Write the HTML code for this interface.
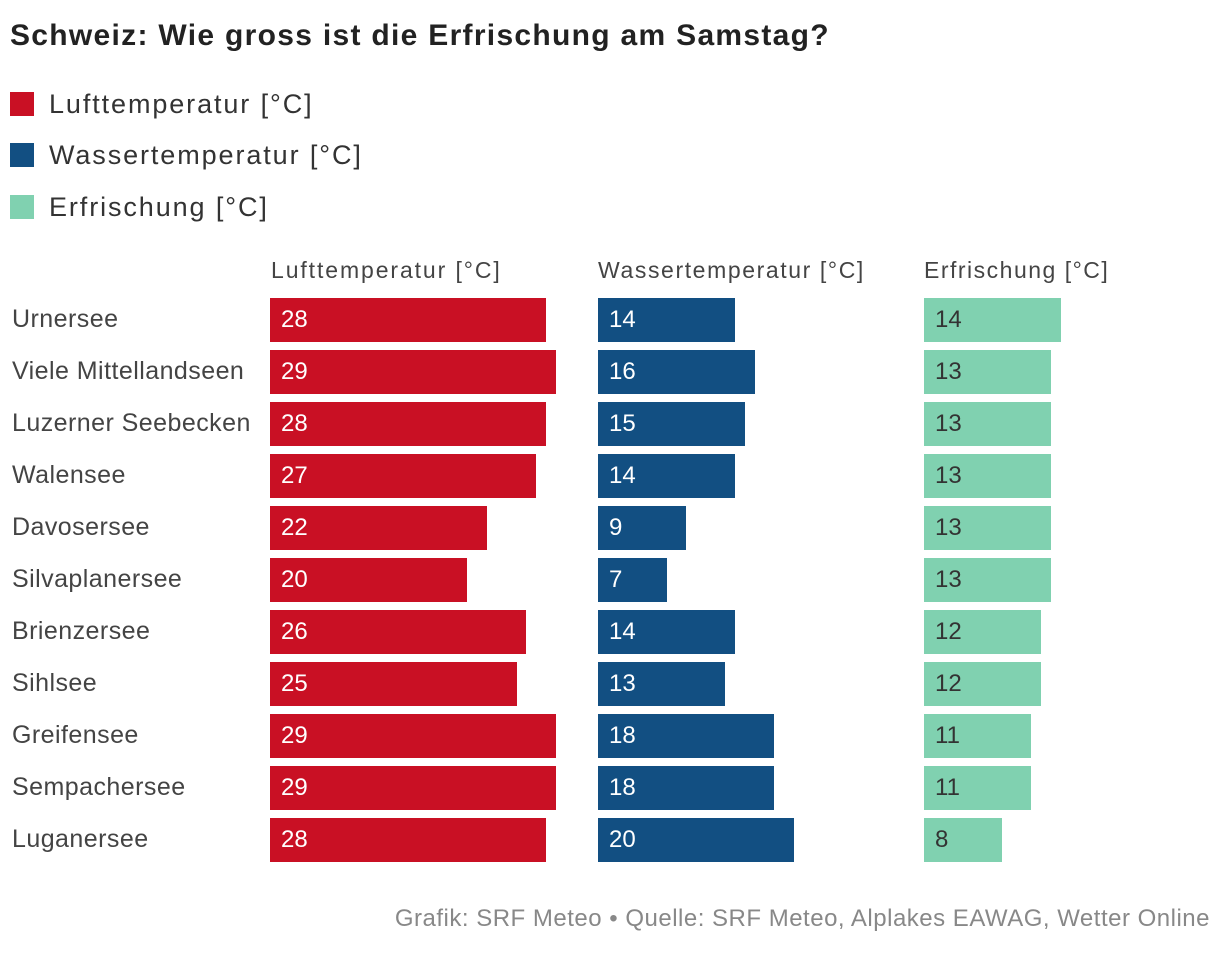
<!DOCTYPE html>
<html><head><meta charset="utf-8"><style>
body{margin:0;width:1220px;height:954px;background:#fff;font-family:"Liberation Sans",sans-serif;color:#333;overflow:hidden;position:relative}
.t{position:absolute;white-space:nowrap}
</style></head><body>
<div class="t" style="left:10px;top:19px;font-size:30px;font-weight:bold;color:#222;letter-spacing:1.3px">Schweiz: Wie gross ist die Erfrischung am Samstag?</div>
<div>
<div class="t" style="left:10px;top:89px;font-size:27px;letter-spacing:1.9px"><span style="display:inline-block;width:24px;height:24px;background:#c91024;vertical-align:-3px;margin-right:15px"></span>Lufttemperatur [°C]</div>
<div class="t" style="left:10px;top:140px;font-size:27px;letter-spacing:1.9px"><span style="display:inline-block;width:24px;height:24px;background:#124f82;vertical-align:-3px;margin-right:15px"></span>Wassertemperatur [°C]</div>
<div class="t" style="left:10px;top:192px;font-size:27px;letter-spacing:1.9px"><span style="display:inline-block;width:24px;height:24px;background:#80d1b0;vertical-align:-3px;margin-right:15px"></span>Erfrischung [°C]</div>
</div>
<div class="t" style="left:271px;top:257px;font-size:23px;color:#444;letter-spacing:1.9px">Lufttemperatur [°C]</div>
<div class="t" style="left:598px;top:257px;font-size:23px;color:#444;letter-spacing:1.6px">Wassertemperatur [°C]</div>
<div class="t" style="left:924px;top:257px;font-size:23px;color:#444;letter-spacing:1.5px">Erfrischung [°C]</div>
<div id="chart"></div>
<div class="t" style="right:10px;top:905px;font-size:24px;color:#888;letter-spacing:0.5px">Grafik: SRF Meteo • Quelle: SRF Meteo, Alplakes EAWAG, Wetter Online</div>
<script>
const lakes=["Urnersee","Viele Mittellandseen","Luzerner Seebecken","Walensee","Davosersee","Silvaplanersee","Brienzersee","Sihlsee","Greifensee","Sempachersee","Luganersee"];
const luft=[28,29,28,27,22,20,26,25,29,29,28];
const wasser=[14,16,15,14,9,7,14,13,18,18,20];
const erfrischung=[14,13,13,13,13,13,12,12,11,11,8];
const root=document.getElementById('chart');
function yPos(i){return 298+i*52;}
function xLen(v,k){return v*k;}
const panels=[{d:luft,x:270,k:9.86,c:'#c91024',tc:'#fff',n:'luft'},{d:wasser,x:598,k:9.8,c:'#124f82',tc:'#fff',n:'wasser'},{d:erfrischung,x:924,k:9.75,c:'#80d1b0',tc:'#333',n:'erfrischung'}];
lakes.forEach((l,i)=>{
  const lab=document.createElement('div');lab.className='t';
  
  
  lab.style.cssText=`left:12px;top:${yPos(i)+7}px;font-size:25px;color:#444;letter-spacing:0.45px`;
  lab.textContent=l;root.appendChild(lab);
  panels.forEach(p=>{
    const b=document.createElement('div');
    
    
    b.style.cssText=`position:absolute;left:${p.x}px;top:${yPos(i)}px;width:${xLen(p.d[i],p.k)}px;height:44px;background:${p.c};color:${p.tc};font-size:24px;line-height:44px;box-sizing:border-box;padding-left:11px`;
    b.textContent=p.d[i];root.appendChild(b);
  });
});
</script>
</body></html>
